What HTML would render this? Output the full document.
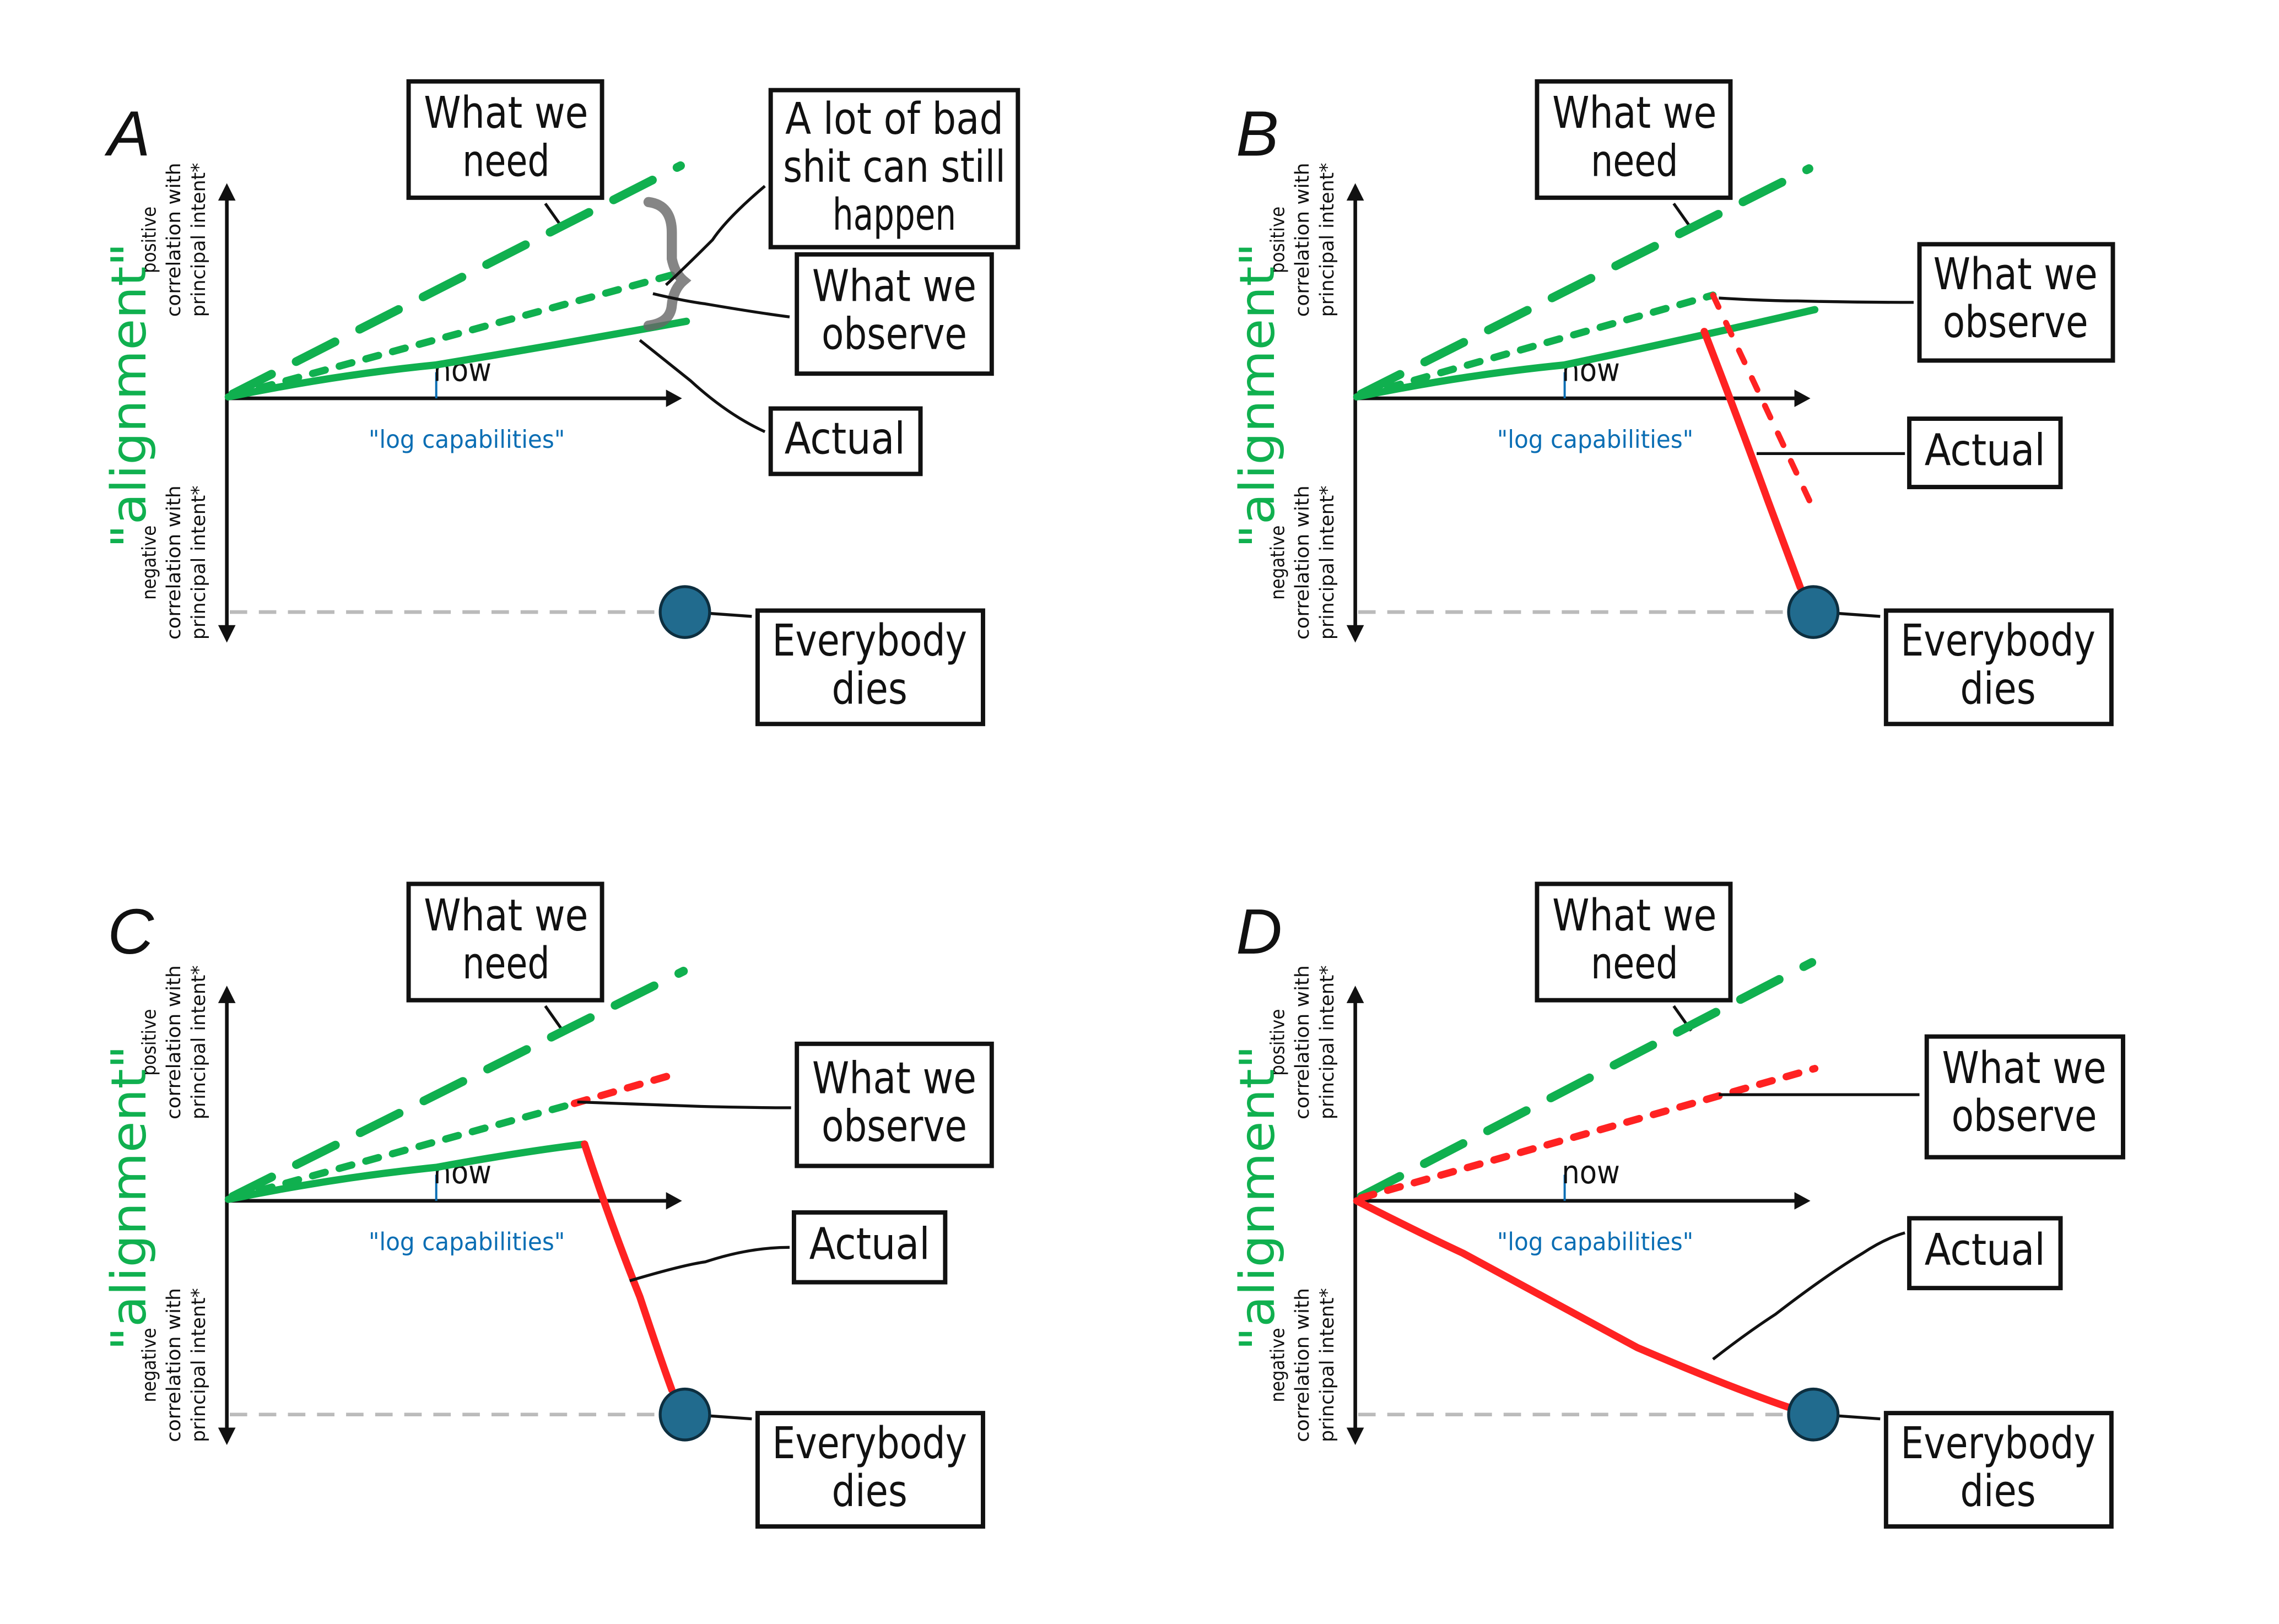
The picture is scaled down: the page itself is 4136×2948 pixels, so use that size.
<!DOCTYPE html>
<html><head><meta charset="utf-8">
<style>
html,body{margin:0;padding:0;background:#fff;}
svg{display:block;}
.box{fill:#fff;stroke:#111;stroke-width:3;}
.bt{font-family:"DejaVu Sans Condensed","Liberation Sans",sans-serif;font-size:30px;fill:#111;text-anchor:middle;}
.sm{font-family:"DejaVu Sans Condensed","Liberation Sans",sans-serif;font-size:13px;fill:#111;text-anchor:middle;}
.al{font-family:"DejaVu Sans",sans-serif;font-size:33px;fill:#10b04f;text-anchor:middle;}
.lc{font-family:"DejaVu Sans Condensed","Liberation Sans",sans-serif;font-size:17px;fill:#0a6eb4;text-anchor:middle;}
.now{font-family:"DejaVu Sans Condensed","Liberation Sans",sans-serif;font-size:22px;fill:#111;}
.let{font-family:"Liberation Sans","DejaVu Sans",sans-serif;font-size:44px;fill:#111;font-style:italic;}
.ln{fill:none;stroke:#111;stroke-width:2;}
.g{fill:none;stroke:#10b04f;stroke-linecap:round;}
.r{fill:none;stroke:#ff2222;stroke-linecap:round;}
</style></head><body>
<svg width="4136" height="2948" viewBox="0 0 1550 1104.8" preserveAspectRatio="none" xmlns="http://www.w3.org/2000/svg">
<defs>
<g id="base">
  <line x1="156" y1="135" x2="156" y2="433" stroke="#111" stroke-width="2.5"/>
  <polygon points="150,138 156,126 162,138" fill="#111"/>
  <polygon points="150,430 156,442 162,430" fill="#111"/>
  <line x1="156" y1="274" x2="459" y2="274" stroke="#111" stroke-width="2.5"/>
  <polygon points="458,268 469,274 458,280" fill="#111"/>
  <line x1="300" y1="256" x2="300" y2="274" stroke="#0a6eb4" stroke-width="1.5"/>
  <text class="now" x="298" y="262" textLength="40" lengthAdjust="spacingAndGlyphs">now</text>
  <text class="lc" x="321" y="308" textLength="135" lengthAdjust="spacingAndGlyphs">"log capabilities"</text>
  <line x1="158" y1="421" x2="455" y2="421" stroke="#bbb" stroke-width="2.5" stroke-dasharray="12,8"/>
  <text class="al" transform="translate(100,272) rotate(-90)" textLength="210" lengthAdjust="spacingAndGlyphs">"alignment"</text>
  <g transform="translate(107,165) rotate(-90)"><text class="sm" x="0" y="0">positive</text></g>
  <g transform="translate(124,165) rotate(-90)"><text class="sm" x="0" y="0" textLength="106" lengthAdjust="spacingAndGlyphs">correlation with</text></g>
  <g transform="translate(141,165) rotate(-90)"><text class="sm" x="0" y="0" textLength="106" lengthAdjust="spacingAndGlyphs">principal intent*</text></g>
  <g transform="translate(107,387) rotate(-90)"><text class="sm" x="0" y="0">negative</text></g>
  <g transform="translate(124,387) rotate(-90)"><text class="sm" x="0" y="0" textLength="106" lengthAdjust="spacingAndGlyphs">correlation with</text></g>
  <g transform="translate(141,387) rotate(-90)"><text class="sm" x="0" y="0" textLength="106" lengthAdjust="spacingAndGlyphs">principal intent*</text></g>
  <rect class="box" x="281" y="56" width="133" height="80"/>
  <text class="bt" x="348" y="88" textLength="113" lengthAdjust="spacingAndGlyphs">What we</text>
  <text class="bt" x="348" y="121" textLength="60" lengthAdjust="spacingAndGlyphs">need</text>
  <line class="ln" x1="375" y1="140" x2="387" y2="157"/>
  <rect class="box" x="521" y="420" width="155" height="78"/>
  <text class="bt" x="598" y="451" textLength="134" lengthAdjust="spacingAndGlyphs">Everybody</text>
  <text class="bt" x="598" y="484" textLength="52" lengthAdjust="spacingAndGlyphs">dies</text>
  <line class="ln" x1="475" y1="421" x2="517" y2="424"/>
</g>
<g id="circ"><ellipse cx="471" cy="421" rx="17" ry="17.5" fill="#216b8e" stroke="#0d2f40" stroke-width="2"/></g>
</defs>
<g transform="scale(0.989)">
<!-- PANEL A -->
<g>
  <use href="#base"/>
  <text class="let" x="74" y="107">A</text>
  <line class="g" x1="160" y1="271" x2="468" y2="114" stroke-width="6" stroke-dasharray="30,19"/>
  <line class="g" x1="160" y1="272" x2="470" y2="187" stroke-width="5" stroke-dasharray="9,10"/>
  <path class="g" d="M157,273 Q230,258 300,251 Q390,236 472,221" stroke-width="5"/>
  <path d="M446,139 Q462,141 462,160 L462,178 Q464,188 470,193 Q463,199 462,210 Q461,222 446,224" fill="none" stroke="#666" stroke-opacity="0.8" stroke-width="7" stroke-linecap="round"/>
  <use href="#circ"/>
  <rect class="box" x="530" y="62" width="170" height="108"/>
  <text class="bt" x="615" y="92" textLength="150" lengthAdjust="spacingAndGlyphs">A lot of bad</text>
  <text class="bt" x="615" y="125" textLength="153" lengthAdjust="spacingAndGlyphs">shit can still</text>
  <text class="bt" x="615" y="158" textLength="85" lengthAdjust="spacingAndGlyphs">happen</text>
  <path class="ln" d="M526,128 Q500,150 490,165 Q470,185 458,196"/>
  <rect class="box" x="548" y="175" width="134" height="82"/>
  <text class="bt" x="615" y="207" textLength="113" lengthAdjust="spacingAndGlyphs">What we</text>
  <text class="bt" x="615" y="240" textLength="100" lengthAdjust="spacingAndGlyphs">observe</text>
  <path class="ln" d="M449,202 Q470,207 485,209 Q520,215 543,218"/>
  <rect class="box" x="530" y="281" width="103" height="45"/>
  <text class="bt" x="581" y="312" textLength="83" lengthAdjust="spacingAndGlyphs">Actual</text>
  <path class="ln" d="M440,234 Q460,250 475,262 Q500,285 526,297"/>
</g>

<!-- PANEL B -->
<g transform="translate(776,0)">
  <use href="#base"/>
  <text class="let" x="74" y="107">B</text>
  <line class="g" x1="160" y1="271" x2="468" y2="116" stroke-width="6" stroke-dasharray="30,19"/>
  <line class="g" x1="160" y1="272" x2="402" y2="203" stroke-width="5" stroke-dasharray="9,10"/>
  <path class="g" d="M157,273 Q230,258 300,251 Q390,232 472,213" stroke-width="5"/>
  <line class="r" x1="402" y1="203" x2="471" y2="350" stroke-width="4" stroke-dasharray="9,12"/>
  <path class="r" d="M396,228 Q420,290 440,345 Q455,385 462,404" stroke-width="5"/>
  <use href="#circ"/>
  <rect class="box" x="544" y="168" width="133" height="80"/>
  <text class="bt" x="610" y="199" textLength="113" lengthAdjust="spacingAndGlyphs">What we</text>
  <text class="bt" x="610" y="232" textLength="100" lengthAdjust="spacingAndGlyphs">observe</text>
  <path class="ln" d="M406,205 Q440,207 460,207 Q500,208 540,208"/>
  <rect class="box" x="537" y="288" width="104" height="47"/>
  <text class="bt" x="589" y="320" textLength="83" lengthAdjust="spacingAndGlyphs">Actual</text>
  <line class="ln" x1="432" y1="312" x2="534" y2="312"/>
</g>

<!-- PANEL C -->
<g transform="translate(0,552)">
  <use href="#base"/>
  <text class="let" x="74" y="104">C</text>
  <line class="g" x1="160" y1="271" x2="470" y2="116" stroke-width="6" stroke-dasharray="30,19"/>
  <line class="g" x1="160" y1="272" x2="395" y2="207" stroke-width="5" stroke-dasharray="9,10"/>
  <line class="r" x1="395" y1="207" x2="460" y2="188" stroke-width="5" stroke-dasharray="9,10"/>
  <path class="g" d="M157,273 Q230,258 300,251 Q360,240 402,235" stroke-width="5"/>
  <path class="r" d="M402,235 Q420,290 440,340 Q455,385 462,404" stroke-width="5"/>
  <use href="#circ"/>
  <rect class="box" x="548" y="166" width="134" height="84"/>
  <text class="bt" x="615" y="200" textLength="113" lengthAdjust="spacingAndGlyphs">What we</text>
  <text class="bt" x="615" y="233" textLength="100" lengthAdjust="spacingAndGlyphs">observe</text>
  <path class="ln" d="M397,206 Q450,208 480,209 Q520,210 544,210"/>
  <rect class="box" x="546" y="282" width="104" height="48"/>
  <text class="bt" x="598" y="314" textLength="83" lengthAdjust="spacingAndGlyphs">Actual</text>
  <path class="ln" d="M433,329 Q470,318 485,316 Q515,306 543,306"/>
</g>

<!-- PANEL D -->
<g transform="translate(776,552)">
  <use href="#base"/>
  <text class="let" x="74" y="104">D</text>
  <line class="g" x1="160" y1="271" x2="470" y2="110" stroke-width="6" stroke-dasharray="30,19"/>
  <line class="r" x1="160" y1="272" x2="472" y2="183" stroke-width="5" stroke-dasharray="9,10"/>
  <path class="r" d="M157,274 Q200,296 230,310 Q300,348 350,375 Q420,405 460,418" stroke-width="5"/>
  <use href="#circ"/>
  <rect class="box" x="549" y="161" width="135" height="83"/>
  <text class="bt" x="616" y="193" textLength="113" lengthAdjust="spacingAndGlyphs">What we</text>
  <text class="bt" x="616" y="226" textLength="100" lengthAdjust="spacingAndGlyphs">observe</text>
  <path class="ln" d="M406,201 Q450,201 480,201 Q520,201 544,201"/>
  <rect class="box" x="537" y="286" width="104" height="48"/>
  <text class="bt" x="589" y="318" textLength="83" lengthAdjust="spacingAndGlyphs">Actual</text>
  <path class="ln" d="M402,383 Q425,365 445,352 Q480,325 505,310 Q520,300 534,296"/>
</g>
</g>
</svg>
</body></html>
